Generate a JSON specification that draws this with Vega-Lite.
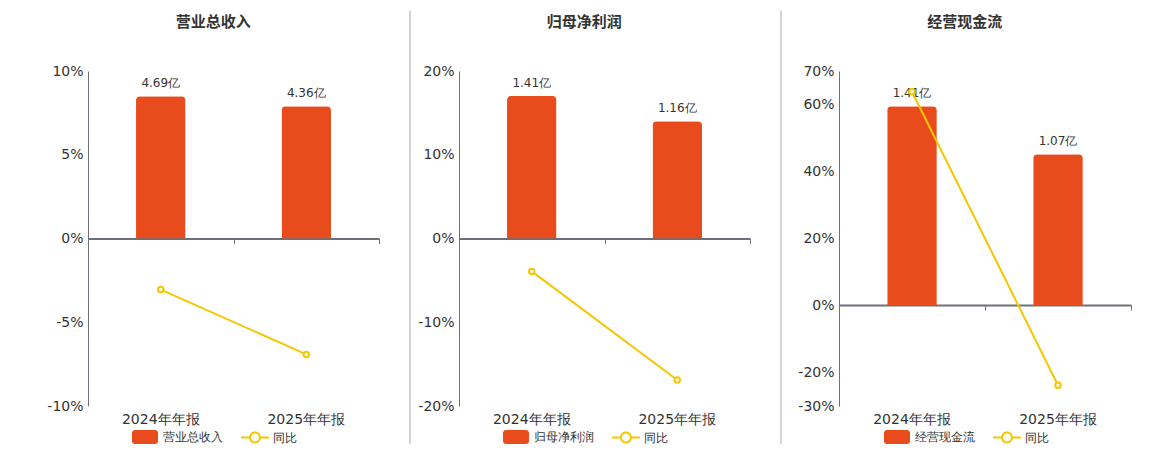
{
  "$schema": "https://vega.github.io/schema/vega-lite/v6.json",
  "padding": {"left": 46, "top": 10, "right": 0, "bottom": 0},
  "spacing": 0,
  "resolve": {"scale": {"color": "independent"}, "legend": {"color": "independent"}},
  "hconcat": [
    {
      "width": 291,
      "height": 335,
      "title": {"text": "营业总收入"},
      "data": {
        "values": [
          {"报告期": "2024年年报", "金额": 4.69, "标签": "4.69亿", "同比": -3.05, "系列": "营业总收入"},
          {"报告期": "2025年年报", "金额": 4.36, "标签": "4.36亿", "同比": -6.92, "系列": "营业总收入"}
        ]
      },
      "layer": [
        {
          "mark": {"type": "bar", "width": {"band": 0.34}, "cornerRadiusEnd": 4},
          "encoding": {
            "x": {"field": "报告期", "type": "nominal", "sort": null, "scale": {"paddingInner": 0, "paddingOuter": 0},
              "axis": {"orient": "bottom", "domain": false, "ticks": false, "labelAngle": 0, "labelFontSize": 14, "labelColor": "#333", "labelPadding": 6, "title": null}},
            "y": {"field": "金额", "type": "quantitative", "scale": {"domain": [-5.518, 5.518]}, "axis": null},
            "color": {"field": "系列", "type": "nominal", "scale": {"domain": ["营业总收入", "同比"], "range": ["#E84C1D", "#F4C700"]},
              "legend": {"title": null, "orient": "none", "legendX": 50, "legendY": 359, "encode": {"symbols": {"update": {
                "shape": {"signal": "datum.value == '同比' ? 'M-2,-0.143H-0.857V0.143H-2ZM0.857,-0.143H2V0.143H0.857ZM-0.857,0A0.857,0.857 0 1 1 0.857,0A0.857,0.857 0 1 1 -0.857,0ZM-0.571,0A0.571,0.571 0 1 0 0.571,0A0.571,0.571 0 1 0 -0.571,0Z' : 'M-1.43,-1H1.43A0.43,0.43 0 0 1 1.86,-0.57V0.57A0.43,0.43 0 0 1 1.43,1H-1.43A0.43,0.43 0 0 1 -1.86,0.57V-0.57A0.43,0.43 0 0 1 -1.43,-1Z'"},
                "strokeWidth": {"value": 0},
                "opacity": {"value": 1}
              }}}}}
          }
        },
        {
          "mark": {"type": "text", "dy": -6, "baseline": "bottom", "fontSize": 12, "color": "#333"},
          "encoding": {
            "x": {"field": "报告期", "type": "nominal", "sort": null, "axis": null},
            "y": {"field": "金额", "type": "quantitative", "scale": {"domain": [-5.518, 5.518]}, "axis": null},
            "text": {"field": "标签"}
          }
        },
        {
          "mark": {"type": "line", "strokeWidth": 2, "point": {"filled": false, "fill": "#fff", "size": 30, "strokeWidth": 2}},
          "encoding": {
            "x": {"field": "报告期", "type": "nominal", "sort": null,
              "axis": {"orient": "bottom", "offset": -167.5, "labels": false, "ticks": true, "tickBand": "extent", "tickSize": 5, "tickColor": "#6E7079", "domainColor": "#6E7079", "domainWidth": 2, "title": null}},
            "y": {"field": "同比", "type": "quantitative", "scale": {"domain": [-10, 10]},
              "axis": {"orient": "left", "values": [-10, -5, 0, 5, 10], "labelExpr": "datum.value + '%'", "title": null}},
            "color": {"datum": "同比"}
          }
        }
      ],
      "resolve": {"scale": {"y": "independent"}, "axis": {"x": "independent", "y": "independent"}}
    },
    {
      "width": 37,
      "height": 335,
      "data": {"values": [{"位置": 0.811, "上": 1.18, "下": -0.113}]},
      "mark": {"type": "rule", "color": "#aaa", "strokeWidth": 1, "clip": false},
      "encoding": {
        "x": {"field": "位置", "type": "quantitative", "scale": {"domain": [0, 1]}, "axis": null},
        "y": {"field": "上", "type": "quantitative", "scale": {"domain": [0, 1]}, "axis": null},
        "y2": {"field": "下"}
      }
    },
    {
      "width": 291,
      "height": 335,
      "title": {"text": "归母净利润"},
      "data": {
        "values": [
          {"报告期": "2024年年报", "金额": 1.41, "标签": "1.41亿", "同比": -3.93, "系列": "归母净利润"},
          {"报告期": "2025年年报", "金额": 1.16, "标签": "1.16亿", "同比": -16.9, "系列": "归母净利润"}
        ]
      },
      "layer": [
        {
          "mark": {"type": "bar", "width": {"band": 0.34}, "cornerRadiusEnd": 4},
          "encoding": {
            "x": {"field": "报告期", "type": "nominal", "sort": null, "scale": {"paddingInner": 0, "paddingOuter": 0},
              "axis": {"orient": "bottom", "domain": false, "ticks": false, "labelAngle": 0, "labelFontSize": 14, "labelColor": "#333", "labelPadding": 6, "title": null}},
            "y": {"field": "金额", "type": "quantitative", "scale": {"domain": [-1.6588, 1.6588]}, "axis": null},
            "color": {"field": "系列", "type": "nominal", "scale": {"domain": ["归母净利润", "同比"], "range": ["#E84C1D", "#F4C700"]},
              "legend": {"title": null, "orient": "none", "legendX": 50, "legendY": 359, "encode": {"symbols": {"update": {
                "shape": {"signal": "datum.value == '同比' ? 'M-2,-0.143H-0.857V0.143H-2ZM0.857,-0.143H2V0.143H0.857ZM-0.857,0A0.857,0.857 0 1 1 0.857,0A0.857,0.857 0 1 1 -0.857,0ZM-0.571,0A0.571,0.571 0 1 0 0.571,0A0.571,0.571 0 1 0 -0.571,0Z' : 'M-1.43,-1H1.43A0.43,0.43 0 0 1 1.86,-0.57V0.57A0.43,0.43 0 0 1 1.43,1H-1.43A0.43,0.43 0 0 1 -1.86,0.57V-0.57A0.43,0.43 0 0 1 -1.43,-1Z'"},
                "strokeWidth": {"value": 0},
                "opacity": {"value": 1}
              }}}}}
          }
        },
        {
          "mark": {"type": "text", "dy": -6, "baseline": "bottom", "fontSize": 12, "color": "#333"},
          "encoding": {
            "x": {"field": "报告期", "type": "nominal", "sort": null, "axis": null},
            "y": {"field": "金额", "type": "quantitative", "scale": {"domain": [-1.6588, 1.6588]}, "axis": null},
            "text": {"field": "标签"}
          }
        },
        {
          "mark": {"type": "line", "strokeWidth": 2, "point": {"filled": false, "fill": "#fff", "size": 30, "strokeWidth": 2}},
          "encoding": {
            "x": {"field": "报告期", "type": "nominal", "sort": null,
              "axis": {"orient": "bottom", "offset": -167.5, "labels": false, "ticks": true, "tickBand": "extent", "tickSize": 5, "tickColor": "#6E7079", "domainColor": "#6E7079", "domainWidth": 2, "title": null}},
            "y": {"field": "同比", "type": "quantitative", "scale": {"domain": [-20, 20]},
              "axis": {"orient": "left", "values": [-20, -10, 0, 10, 20], "labelExpr": "datum.value + '%'", "title": null}},
            "color": {"datum": "同比"}
          }
        }
      ],
      "resolve": {"scale": {"y": "independent"}, "axis": {"x": "independent", "y": "independent"}}
    },
    {
      "width": 46,
      "height": 335,
      "data": {"values": [{"位置": 0.652, "上": 1.18, "下": -0.113}]},
      "mark": {"type": "rule", "color": "#aaa", "strokeWidth": 1, "clip": false},
      "encoding": {
        "x": {"field": "位置", "type": "quantitative", "scale": {"domain": [0, 1]}, "axis": null},
        "y": {"field": "上", "type": "quantitative", "scale": {"domain": [0, 1]}, "axis": null},
        "y2": {"field": "下"}
      }
    },
    {
      "width": 292,
      "height": 335,
      "title": {"text": "经营现金流"},
      "data": {
        "values": [
          {"报告期": "2024年年报", "金额": 1.41, "标签": "1.41亿", "同比": 63.8, "系列": "经营现金流"},
          {"报告期": "2025年年报", "金额": 1.07, "标签": "1.07亿", "同比": -23.8, "系列": "经营现金流"}
        ]
      },
      "layer": [
        {
          "mark": {"type": "bar", "width": {"band": 0.34}, "cornerRadiusEnd": 4},
          "encoding": {
            "x": {"field": "报告期", "type": "nominal", "sort": null, "scale": {"paddingInner": 0, "paddingOuter": 0},
              "axis": {"orient": "bottom", "domain": false, "ticks": false, "labelAngle": 0, "labelFontSize": 14, "labelColor": "#333", "labelPadding": 6, "title": null}},
            "y": {"field": "金额", "type": "quantitative", "scale": {"domain": [-0.711, 1.6588]}, "axis": null},
            "color": {"field": "系列", "type": "nominal", "scale": {"domain": ["经营现金流", "同比"], "range": ["#E84C1D", "#F4C700"]},
              "legend": {"title": null, "orient": "none", "legendX": 51, "legendY": 359, "encode": {"symbols": {"update": {
                "shape": {"signal": "datum.value == '同比' ? 'M-2,-0.143H-0.857V0.143H-2ZM0.857,-0.143H2V0.143H0.857ZM-0.857,0A0.857,0.857 0 1 1 0.857,0A0.857,0.857 0 1 1 -0.857,0ZM-0.571,0A0.571,0.571 0 1 0 0.571,0A0.571,0.571 0 1 0 -0.571,0Z' : 'M-1.43,-1H1.43A0.43,0.43 0 0 1 1.86,-0.57V0.57A0.43,0.43 0 0 1 1.43,1H-1.43A0.43,0.43 0 0 1 -1.86,0.57V-0.57A0.43,0.43 0 0 1 -1.43,-1Z'"},
                "strokeWidth": {"value": 0},
                "opacity": {"value": 1}
              }}}}}
          }
        },
        {
          "mark": {"type": "text", "dy": -6, "baseline": "bottom", "fontSize": 12, "color": "#333"},
          "encoding": {
            "x": {"field": "报告期", "type": "nominal", "sort": null, "axis": null},
            "y": {"field": "金额", "type": "quantitative", "scale": {"domain": [-0.711, 1.6588]}, "axis": null},
            "text": {"field": "标签"}
          }
        },
        {
          "mark": {"type": "line", "strokeWidth": 2, "point": {"filled": false, "fill": "#fff", "size": 30, "strokeWidth": 2}},
          "encoding": {
            "x": {"field": "报告期", "type": "nominal", "sort": null,
              "axis": {"orient": "bottom", "offset": -101, "labels": false, "ticks": true, "tickBand": "extent", "tickSize": 5, "tickColor": "#6E7079", "domainColor": "#6E7079", "domainWidth": 2, "title": null}},
            "y": {"field": "同比", "type": "quantitative", "scale": {"domain": [-30, 70], "nice": false},
              "axis": {"orient": "left", "values": [-30, -20, 0, 20, 40, 60, 70], "labelExpr": "datum.value + '%'", "title": null}},
            "color": {"datum": "同比"}
          }
        }
      ],
      "resolve": {"scale": {"y": "independent"}, "axis": {"x": "independent", "y": "independent"}}
    }
  ],
  "config": {
    "font": "DejaVu Sans",
    "view": {"stroke": null},
    "title": {"fontSize": 15, "fontWeight": "bold", "color": "#333", "font": "Noto Sans CJK SC", "frame": "bounds", "offset": 34},
    "axis": {"labelFontSize": 14, "labelColor": "#333", "gridColor": "#E0E6F1", "domainColor": "#6E7079", "tickColor": "#6E7079", "tickSize": 4, "labelPadding": 3},
    "axisY": {"ticks": false, "labelPadding": 5},
    "axisX": {"grid": false},
    "legend": {"direction": "horizontal", "symbolSize": 196, "labelFontSize": 12, "labelColor": "#333", "labelOffset": 11, "columnPadding": 18, "padding": 0}
  }
}
